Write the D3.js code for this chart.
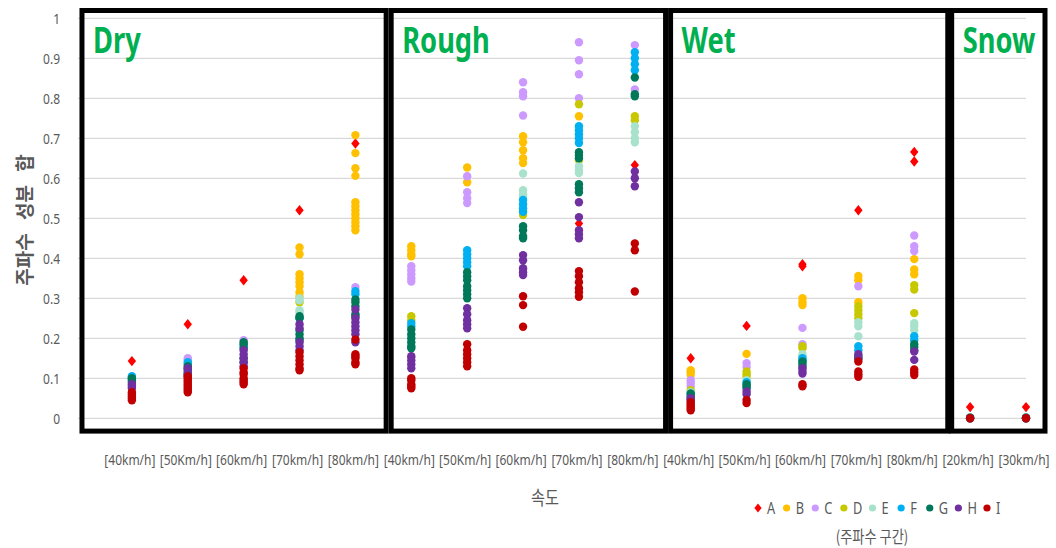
<!DOCTYPE html>
<html>
<head>
<meta charset="utf-8">
<script src="https://d3js.org/d3.v7.min.js"></script>
<style>
  body { margin: 0; background: #fff; }
  svg { display: block; }
  text { font-family: "Noto Sans", "Noto Sans CJK KR", sans-serif; fill: #595959; }
</style>
</head>
<body>
<svg id="chart"></svg>
<script>
// --- data ---
const groups = ["Dry", "Rough", "Wet", "Snow"];
const groupCats = [[1, 5], [6, 10], [11, 15], [16, 17]];   // category index range per group
const categories = [
  "[40km/h]", "[50Km/h]", "[60km/h]", "[70km/h]", "[80km/h]",
  "[40km/h]", "[50Km/h]", "[60km/h]", "[70km/h]", "[80km/h]",
  "[40km/h]", "[50Km/h]", "[60km/h]", "[70km/h]", "[80km/h]",
  "[20km/h]", "[30km/h]"
];
const seriesNames = ["A", "B", "C", "D", "E", "F", "G", "H", "I"];
const seriesColors = ["#FF0000", "#FFC000", "#CC99FF", "#C8C800", "#A9E2CC", "#00B0F0", "#00785A", "#7030A0", "#C00000"];

const seriesA = [[0.143], [0.235], [0.345], [0.52], [0.687], [0.152], [], [0.372], [0.487], [0.633],
  [0.15], [0.231], [0.385, 0.38], [0.52], [0.666, 0.642], [0.028], [0.028]];
const seriesB = [[], [], [], [0.427, 0.41, 0.36, 0.35, 0.34, 0.33, 0.315, 0.305],
  [0.708, 0.663, 0.625, 0.606, 0.54, 0.53, 0.52, 0.51, 0.5, 0.49, 0.48, 0.47],
  [0.43, 0.42, 0.41, 0.405], [0.627, 0.59], [0.705, 0.69, 0.67, 0.65, 0.638], [0.755], [],
  [0.12, 0.115, 0.108], [0.161], [0.3, 0.29, 0.283], [0.356, 0.345, 0.29], [0.398, 0.372, 0.36], [0], [0]];
const seriesC = [[0.1], [0.15, 0.145], [0.195], [], [0.328], [0.38, 0.37, 0.36, 0.35, 0.342],
  [0.605, 0.565, 0.55, 0.538], [0.84, 0.815, 0.805, 0.757], [0.94, 0.895, 0.86, 0.8], [0.933, 0.822],
  [0.095, 0.088, 0.08], [0.138, 0.128], [0.226, 0.185], [0.33], [0.457, 0.43, 0.418], [0], [0]];
const seriesD = [[], [], [], [0.29], [], [0.255, 0.245], [], [0.508, 0.52], [0.785, 0.645], [0.755, 0.745],
  [0.07], [0.117, 0.11, 0.104], [0.18, 0.175], [0.28, 0.27, 0.26, 0.25], [0.333, 0.322, 0.263], [0], [0]];
const seriesE = [[0.1], [], [], [0.3, 0.295, 0.27, 0.265], [], [], [], [0.612, 0.57, 0.56, 0.555],
  [0.63, 0.62, 0.613, 0.69], [0.73, 0.715, 0.7, 0.69], [0.065], [0.095], [0.16, 0.155],
  [0.24, 0.23, 0.205], [0.238, 0.23, 0.22], [0], [0]];
const seriesF = [[0.105, 0.1], [0.14, 0.135], [0.18], [0.25], [0.318, 0.31], [0.238, 0.23],
  [0.42, 0.41, 0.4, 0.39, 0.38], [0.546, 0.535, 0.525, 0.516], [0.73, 0.72, 0.71, 0.7, 0.688],
  [0.915, 0.9, 0.885, 0.87], [0.06], [0.09], [0.15, 0.145], [0.18, 0.17], [0.205, 0.195], [0], [0]];
const seriesG = [[0.1, 0.095, 0.09], [0.13, 0.125, 0.115, 0.11], [0.19, 0.185, 0.175, 0.15, 0.14],
  [0.255, 0.25, 0.22, 0.21, 0.2, 0.195], [0.297, 0.29, 0.28, 0.26, 0.255], [0.222, 0.21, 0.2, 0.19, 0.18, 0.175],
  [0.365, 0.355, 0.345, 0.33, 0.32, 0.31, 0.3], [0.48, 0.47, 0.455, 0.45], [0.665, 0.658, 0.65, 0.585, 0.575, 0.565],
  [0.852, 0.81, 0.805], [0.062, 0.055, 0.048], [0.085, 0.08, 0.075], [0.142, 0.137, 0.13], [0.155, 0.148],
  [0.185, 0.178, 0.17], [0.002], [0.002]];
const seriesH = [[0.085, 0.08, 0.075], [0.125, 0.12, 0.11, 0.105], [0.17, 0.16, 0.15, 0.14, 0.13],
  [0.235, 0.225, 0.19, 0.18, 0.17], [0.272, 0.25, 0.24, 0.23, 0.22, 0.21, 0.19], [0.155, 0.145, 0.135, 0.125],
  [0.275, 0.26, 0.245, 0.235, 0.225], [0.408, 0.395, 0.375, 0.365, 0.358], [0.54, 0.503, 0.47, 0.46, 0.45],
  [0.617, 0.6, 0.58], [0.05, 0.045], [0.067, 0.06], [0.125, 0.118, 0.112], [0.16, 0.15], [0.167, 0.146], [0], [0]];
const seriesI = [[0.065, 0.06, 0.055, 0.05, 0.045], [0.105, 0.1, 0.095, 0.09, 0.085, 0.08, 0.075, 0.07, 0.065],
  [0.125, 0.115, 0.11, 0.1, 0.095, 0.09, 0.085], [0.165, 0.155, 0.145, 0.135, 0.125, 0.12],
  [0.197, 0.16, 0.155, 0.15, 0.14, 0.135], [0.1, 0.095, 0.085, 0.08, 0.075], [0.185, 0.17, 0.16, 0.15, 0.14, 0.13],
  [0.305, 0.283, 0.229], [0.368, 0.355, 0.34, 0.325, 0.315, 0.304], [0.437, 0.42, 0.317],
  [0.04, 0.035, 0.03, 0.025, 0.02], [0.046, 0.038], [0.085, 0.08], [0.142, 0.117, 0.11, 0.104],
  [0.122, 0.115, 0.108], [0], [0]];
const allSeries = [seriesA, seriesB, seriesC, seriesD, seriesE, seriesF, seriesG, seriesH, seriesI];

// --- layout ---
const W = 1056, H = 548;
const sx = 0.8; // the source figure's text is horizontally squeezed
const svg = d3.select("#chart").attr("width", W).attr("height", H);

const x = d3.scaleLinear().domain([0, 17]).range([76, 1026]);
const y = d3.scaleLinear().domain([0, 1]).range([418.3, 18.3]);

function txt(px, py, s, anchor, size) {
  return svg.append("text")
    .attr("transform", `translate(${px},${py}) scale(${sx},1)`)
    .attr("text-anchor", anchor)
    .attr("dy", "0.35em")
    .style("font-size", size + "px")
    .text(s);
}

// gridlines
svg.append("g").selectAll("line")
  .data(y.ticks(10))
  .join("line")
  .attr("x1", x(0) + 2).attr("x2", x(17))
  .attr("y1", d => y(d)).attr("y2", d => y(d))
  .attr("stroke", "#D9D9D9").attr("stroke-width", 1.3);

// y tick labels
y.ticks(10).forEach(d => txt(60, y(d), String(d), "end", 15));

// group boxes
const boxTop = 1.0195, boxBot = -0.032;
const boxPad = [[0.893, 0.55], [0.36, 0.55], [0.36, 0.6], [0.33, 0.34]];
groups.forEach((gname, i) => {
  const x0 = x(groupCats[i][0] - boxPad[i][0]);
  const x1 = x(groupCats[i][1] + boxPad[i][1]);
  svg.append("rect")
    .attr("x", x0).attr("y", y(boxTop))
    .attr("width", x1 - x0).attr("height", y(boxBot) - y(boxTop))
    .attr("fill", "none").attr("stroke", "#000").attr("stroke-width", 5);
  svg.append("text")
    .attr("transform", `translate(${x0 + 11},53) scale(0.78,1)`)
    .style("font-size", "35px").style("font-weight", "bold")
    .style("fill", "#00B050")
    .text(gname);
});

// points
const diamond = "M0,-5.2L4.2,0L0,5.2L-4.2,0Z";
allSeries.forEach((ser, si) => {
  const pts = [];
  ser.forEach((vals, ci) => vals.forEach(v => pts.push({ c: ci + 1, v })));
  const g = svg.append("g");
  if (si === 0) {
    g.selectAll("path").data(pts).join("path")
      .attr("d", diamond)
      .attr("transform", d => `translate(${x(d.c)},${y(d.v)})`)
      .attr("fill", seriesColors[si]);
  } else {
    g.selectAll("circle").data(pts).join("circle")
      .attr("cx", d => x(d.c)).attr("cy", d => y(d.v))
      .attr("r", 4.2)
      .attr("fill", seriesColors[si]);
  }
});

// category labels
categories.forEach((c, i) => txt(x(i + 1) - 2, 460, c, "middle", 15));

// axis titles
svg.append("text")
  .attr("transform", "translate(25,220) rotate(-90)")
  .attr("text-anchor", "middle").attr("dy", "0.35em")
  .style("font-size", "19px").style("font-weight", "bold")
  .style("font-family", "'Noto Sans CJK KR', sans-serif")
  .style("word-spacing", "9px")
  .text("주파수 성분 합");

txt(545, 498, "속도", "middle", 19).style("font-family", "'Noto Sans CJK KR', sans-serif");

// legend
const legX = d3.scaleLinear().domain([0, 8]).range([758, 987]);
seriesNames.forEach((n, i) => {
  const lx = legX(i), ly = 508;
  if (i === 0) {
    svg.append("path").attr("d", "M0,-4.5L3.6,0L0,4.5L-3.6,0Z")
      .attr("transform", `translate(${lx},${ly})`).attr("fill", seriesColors[i]);
  } else {
    svg.append("circle").attr("cx", lx).attr("cy", ly).attr("r", 3.6).attr("fill", seriesColors[i]);
  }
  txt(lx + 9, ly, n, "start", 16);
});
txt(872, 537, "(주파수 구간)", "middle", 16.5).style("font-family", "'Noto Sans CJK KR', sans-serif");
</script>
</body>
</html>
